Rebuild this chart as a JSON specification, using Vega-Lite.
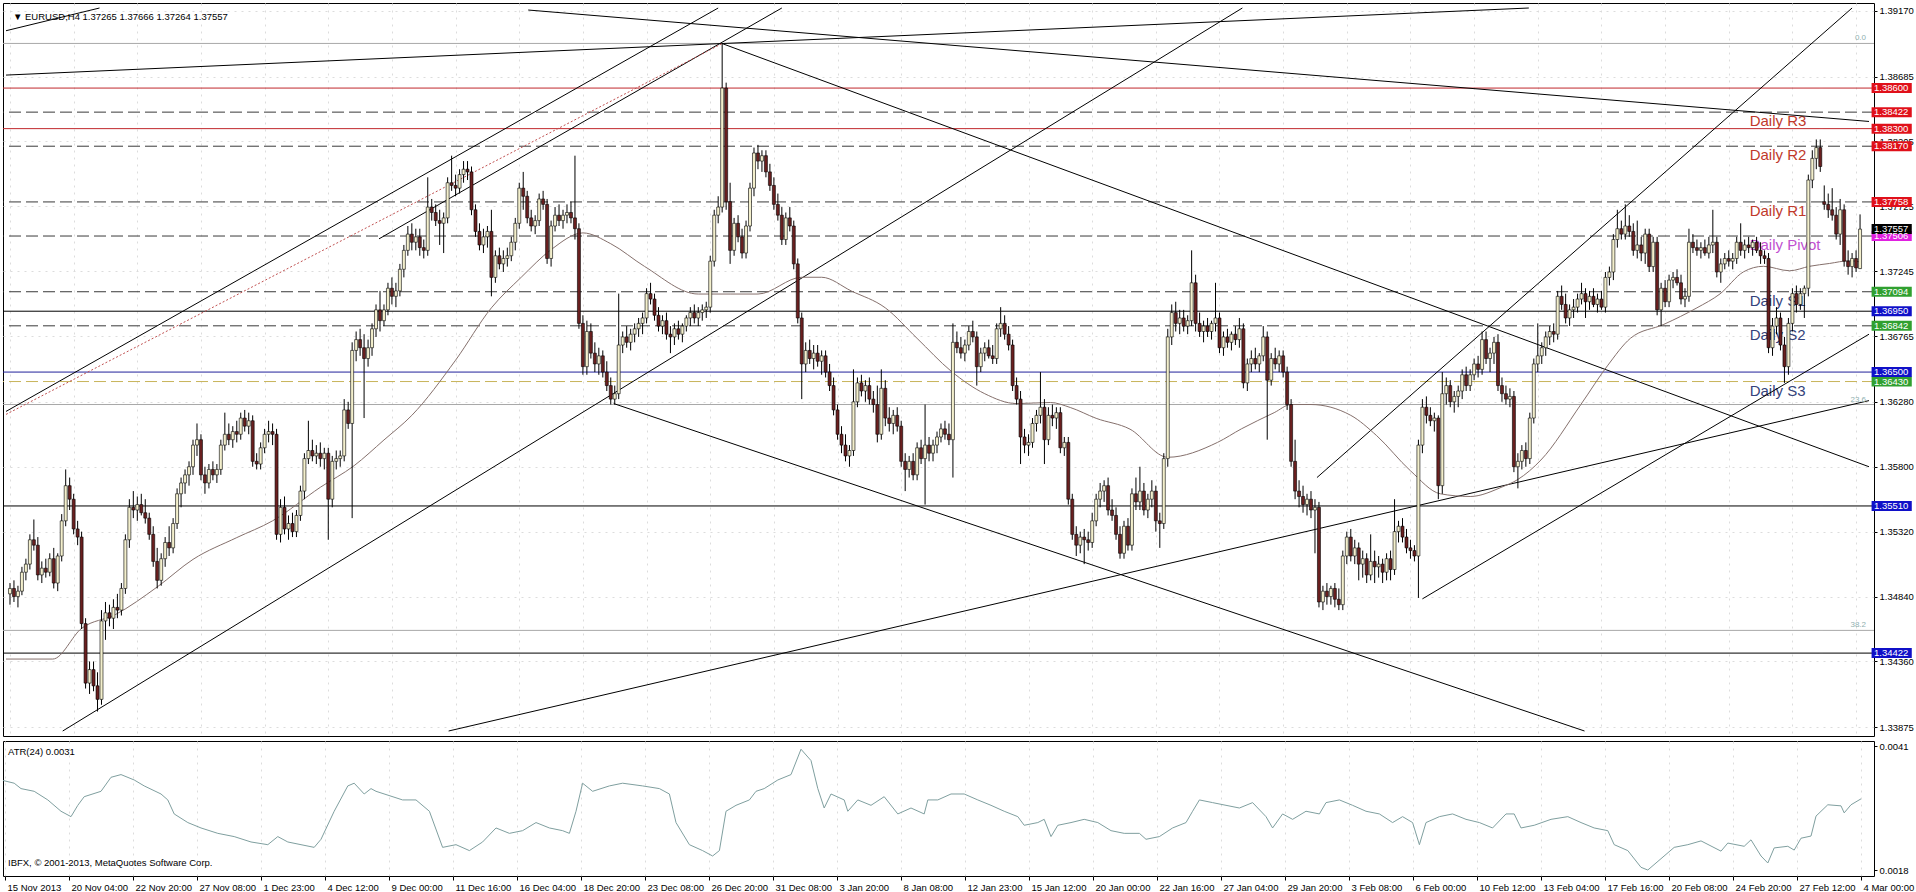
{
"$schema":"https://vega.github.io/schema/vega-lite/v6.json",
"padding":{"left":2,"top":2,"right":0,"bottom":0},
"background":"#ffffff",
"spacing":3,
"config":{"font":"Liberation Sans","view":{"stroke":"#000000","strokeWidth":1},"axis":{"labelFont":"Liberation Sans","labelFontSize":9.5,"labelColor":"#000000","tickColor":"#000000","domain":false,"zindex":0}},
"datasets":{
"bars":[
{"i":0,"o":1.3486,"h":1.3494,"l":1.3478,"c":1.3490},{"i":1,"o":1.3490,"h":1.3496,"l":1.3480,"c":1.3484},{"i":2,"o":1.3484,"h":1.3492,"l":1.3476,"c":1.3488},{"i":3,"o":1.3488,"h":1.3506,"l":1.3485,"c":1.3502},{"i":4,"o":1.3502,"h":1.3512,"l":1.3496,"c":1.3508},{"i":5,"o":1.3508,"h":1.3530,"l":1.3504,"c":1.3526},{"i":6,"o":1.3526,"h":1.3541,"l":1.3518,"c":1.3522},{"i":7,"o":1.3522,"h":1.3528,"l":1.3496,"c":1.3500},{"i":8,"o":1.3500,"h":1.3510,"l":1.3494,"c":1.3505},{"i":9,"o":1.3505,"h":1.3512,"l":1.3498,"c":1.3502},
{"i":10,"o":1.3502,"h":1.3516,"l":1.3499,"c":1.3512},{"i":11,"o":1.3512,"h":1.3520,"l":1.3490,"c":1.3494},{"i":12,"o":1.3494,"h":1.3516,"l":1.3488,"c":1.3514},{"i":13,"o":1.3514,"h":1.3545,"l":1.3510,"c":1.3540},{"i":14,"o":1.3540,"h":1.3578,"l":1.3536,"c":1.3566},{"i":15,"o":1.3566,"h":1.3572,"l":1.3548,"c":1.3556},{"i":16,"o":1.3556,"h":1.3560,"l":1.3530,"c":1.3534},{"i":17,"o":1.3534,"h":1.3540,"l":1.3522,"c":1.3528},{"i":18,"o":1.3528,"h":1.3532,"l":1.3460,"c":1.3464},{"i":19,"o":1.3464,"h":1.3468,"l":1.3416,"c":1.3420},
{"i":20,"o":1.3420,"h":1.3436,"l":1.3412,"c":1.3430},{"i":21,"o":1.3430,"h":1.3436,"l":1.3414,"c":1.3418},{"i":22,"o":1.3418,"h":1.3428,"l":1.3399,"c":1.3408},{"i":23,"o":1.3408,"h":1.3474,"l":1.3404,"c":1.3466},{"i":24,"o":1.3466,"h":1.3480,"l":1.3452,"c":1.3472},{"i":25,"o":1.3472,"h":1.3478,"l":1.3462,"c":1.3468},{"i":26,"o":1.3468,"h":1.3482,"l":1.3460,"c":1.3476},{"i":27,"o":1.3476,"h":1.3486,"l":1.3468,"c":1.3474},{"i":28,"o":1.3474,"h":1.3494,"l":1.3470,"c":1.3490},{"i":29,"o":1.3490,"h":1.3530,"l":1.3486,"c":1.3526},
{"i":30,"o":1.3526,"h":1.3556,"l":1.3520,"c":1.3550},{"i":31,"o":1.3550,"h":1.3562,"l":1.3542,"c":1.3548},{"i":32,"o":1.3548,"h":1.3558,"l":1.3540,"c":1.3552},{"i":33,"o":1.3552,"h":1.3560,"l":1.3544,"c":1.3546},{"i":34,"o":1.3546,"h":1.3556,"l":1.3538,"c":1.3542},{"i":35,"o":1.3542,"h":1.3546,"l":1.3526,"c":1.3530},{"i":36,"o":1.3530,"h":1.3536,"l":1.3506,"c":1.3510},{"i":37,"o":1.3510,"h":1.3520,"l":1.3490,"c":1.3496},{"i":38,"o":1.3496,"h":1.3516,"l":1.3492,"c":1.3512},{"i":39,"o":1.3512,"h":1.3528,"l":1.3506,"c":1.3524},
{"i":40,"o":1.3524,"h":1.3536,"l":1.3514,"c":1.3520},{"i":41,"o":1.3520,"h":1.3542,"l":1.3516,"c":1.3538},{"i":42,"o":1.3538,"h":1.3564,"l":1.3534,"c":1.3560},{"i":43,"o":1.3560,"h":1.3572,"l":1.3550,"c":1.3568},{"i":44,"o":1.3568,"h":1.3578,"l":1.3560,"c":1.3574},{"i":45,"o":1.3574,"h":1.3584,"l":1.3566,"c":1.3580},{"i":46,"o":1.3580,"h":1.3600,"l":1.3574,"c":1.3596},{"i":47,"o":1.3596,"h":1.3612,"l":1.3588,"c":1.3600},{"i":48,"o":1.3600,"h":1.3604,"l":1.3570,"c":1.3574},{"i":49,"o":1.3574,"h":1.3580,"l":1.3560,"c":1.3568},
{"i":50,"o":1.3568,"h":1.3582,"l":1.3564,"c":1.3578},{"i":51,"o":1.3578,"h":1.3584,"l":1.3570,"c":1.3574},{"i":52,"o":1.3574,"h":1.3582,"l":1.3568,"c":1.3578},{"i":53,"o":1.3578,"h":1.3600,"l":1.3574,"c":1.3596},{"i":54,"o":1.3596,"h":1.3620,"l":1.3592,"c":1.3604},{"i":55,"o":1.3604,"h":1.3612,"l":1.3596,"c":1.3600},{"i":56,"o":1.3600,"h":1.3610,"l":1.3594,"c":1.3606},{"i":57,"o":1.3606,"h":1.3614,"l":1.3598,"c":1.3604},{"i":58,"o":1.3604,"h":1.3620,"l":1.3600,"c":1.3616},{"i":59,"o":1.3616,"h":1.3622,"l":1.3606,"c":1.3610},
{"i":60,"o":1.3610,"h":1.3620,"l":1.3604,"c":1.3614},{"i":61,"o":1.3614,"h":1.3618,"l":1.3580,"c":1.3584},{"i":62,"o":1.3584,"h":1.3590,"l":1.3578,"c":1.3582},{"i":63,"o":1.3582,"h":1.3598,"l":1.3578,"c":1.3594},{"i":64,"o":1.3594,"h":1.3608,"l":1.3590,"c":1.3604},{"i":65,"o":1.3604,"h":1.3614,"l":1.3598,"c":1.3606},{"i":66,"o":1.3606,"h":1.3612,"l":1.3596,"c":1.3604},{"i":67,"o":1.3604,"h":1.3608,"l":1.3526,"c":1.3530},{"i":68,"o":1.3530,"h":1.3556,"l":1.3524,"c":1.3550},{"i":69,"o":1.3550,"h":1.3558,"l":1.3530,"c":1.3534},
{"i":70,"o":1.3534,"h":1.3544,"l":1.3526,"c":1.3538},{"i":71,"o":1.3538,"h":1.3546,"l":1.3528,"c":1.3532},{"i":72,"o":1.3532,"h":1.3548,"l":1.3528,"c":1.3544},{"i":73,"o":1.3544,"h":1.3566,"l":1.3540,"c":1.3562},{"i":74,"o":1.3562,"h":1.3590,"l":1.3556,"c":1.3586},{"i":75,"o":1.3586,"h":1.3614,"l":1.3582,"c":1.3592},{"i":76,"o":1.3592,"h":1.3600,"l":1.3584,"c":1.3588},{"i":77,"o":1.3588,"h":1.3596,"l":1.3582,"c":1.3590},{"i":78,"o":1.3590,"h":1.3598,"l":1.3580,"c":1.3586},{"i":79,"o":1.3586,"h":1.3594,"l":1.3578,"c":1.3590},
{"i":80,"o":1.3590,"h":1.3594,"l":1.3526,"c":1.3556},{"i":81,"o":1.3556,"h":1.3588,"l":1.3550,"c":1.3584},{"i":82,"o":1.3584,"h":1.3592,"l":1.3578,"c":1.3586},{"i":83,"o":1.3586,"h":1.3592,"l":1.3580,"c":1.3588},{"i":84,"o":1.3588,"h":1.3630,"l":1.3584,"c":1.3622},{"i":85,"o":1.3622,"h":1.3628,"l":1.3608,"c":1.3612},{"i":86,"o":1.3612,"h":1.3672,"l":1.3542,"c":1.3666},{"i":87,"o":1.3666,"h":1.3680,"l":1.3658,"c":1.3674},{"i":88,"o":1.3674,"h":1.3682,"l":1.3662,"c":1.3668},{"i":89,"o":1.3668,"h":1.3678,"l":1.3616,"c":1.3660},
{"i":90,"o":1.3660,"h":1.3674,"l":1.3654,"c":1.3668},{"i":91,"o":1.3668,"h":1.3686,"l":1.3662,"c":1.3682},{"i":92,"o":1.3682,"h":1.3700,"l":1.3676,"c":1.3696},{"i":93,"o":1.3696,"h":1.3710,"l":1.3680,"c":1.3688},{"i":94,"o":1.3688,"h":1.3700,"l":1.3684,"c":1.3696},{"i":95,"o":1.3696,"h":1.3716,"l":1.3692,"c":1.3712},{"i":96,"o":1.3712,"h":1.3720,"l":1.3700,"c":1.3706},{"i":97,"o":1.3706,"h":1.3716,"l":1.3698,"c":1.3710},{"i":98,"o":1.3710,"h":1.3730,"l":1.3706,"c":1.3726},{"i":99,"o":1.3726,"h":1.3744,"l":1.3720,"c":1.3740},
{"i":100,"o":1.3740,"h":1.3758,"l":1.3736,"c":1.3752},{"i":101,"o":1.3752,"h":1.3760,"l":1.3740,"c":1.3746},{"i":102,"o":1.3746,"h":1.3756,"l":1.3740,"c":1.3750},{"i":103,"o":1.3750,"h":1.3756,"l":1.3736,"c":1.3742},{"i":104,"o":1.3742,"h":1.3748,"l":1.3734,"c":1.3740},{"i":105,"o":1.3740,"h":1.3794,"l":1.3736,"c":1.3772},{"i":106,"o":1.3772,"h":1.3778,"l":1.3762,"c":1.3768},{"i":107,"o":1.3768,"h":1.3774,"l":1.3758,"c":1.3762},{"i":108,"o":1.3762,"h":1.3770,"l":1.3744,"c":1.3760},{"i":109,"o":1.3760,"h":1.3768,"l":1.3738,"c":1.3764},
{"i":110,"o":1.3764,"h":1.3794,"l":1.3760,"c":1.3790},{"i":111,"o":1.3790,"h":1.3810,"l":1.3784,"c":1.3788},{"i":112,"o":1.3788,"h":1.3796,"l":1.3780,"c":1.3786},{"i":113,"o":1.3786,"h":1.3800,"l":1.3782,"c":1.3796},{"i":114,"o":1.3796,"h":1.3806,"l":1.3790,"c":1.3800},{"i":115,"o":1.3800,"h":1.3806,"l":1.3792,"c":1.3798},{"i":116,"o":1.3798,"h":1.3802,"l":1.3766,"c":1.3770},{"i":117,"o":1.3770,"h":1.3774,"l":1.3750,"c":1.3754},{"i":118,"o":1.3754,"h":1.3760,"l":1.3740,"c":1.3744},{"i":119,"o":1.3744,"h":1.3756,"l":1.3738,"c":1.3750},
{"i":120,"o":1.3750,"h":1.3758,"l":1.3742,"c":1.3754},{"i":121,"o":1.3754,"h":1.3770,"l":1.3706,"c":1.3720},{"i":122,"o":1.3720,"h":1.3740,"l":1.3716,"c":1.3736},{"i":123,"o":1.3736,"h":1.3742,"l":1.3726,"c":1.3730},{"i":124,"o":1.3730,"h":1.3740,"l":1.3724,"c":1.3734},{"i":125,"o":1.3734,"h":1.3742,"l":1.3728,"c":1.3736},{"i":126,"o":1.3736,"h":1.3750,"l":1.3732,"c":1.3746},{"i":127,"o":1.3746,"h":1.3764,"l":1.3740,"c":1.3760},{"i":128,"o":1.3760,"h":1.3790,"l":1.3756,"c":1.3786},{"i":129,"o":1.3786,"h":1.3798,"l":1.3770,"c":1.3780},
{"i":130,"o":1.3780,"h":1.3784,"l":1.3760,"c":1.3764},{"i":131,"o":1.3764,"h":1.3770,"l":1.3754,"c":1.3758},{"i":132,"o":1.3758,"h":1.3766,"l":1.3752,"c":1.3762},{"i":133,"o":1.3762,"h":1.3782,"l":1.3758,"c":1.3778},{"i":134,"o":1.3778,"h":1.3784,"l":1.3770,"c":1.3774},{"i":135,"o":1.3774,"h":1.3778,"l":1.3730,"c":1.3734},{"i":136,"o":1.3734,"h":1.3762,"l":1.3728,"c":1.3758},{"i":137,"o":1.3758,"h":1.3772,"l":1.3754,"c":1.3766},{"i":138,"o":1.3766,"h":1.3774,"l":1.3758,"c":1.3762},{"i":139,"o":1.3762,"h":1.3770,"l":1.3756,"c":1.3766},
{"i":140,"o":1.3766,"h":1.3774,"l":1.3760,"c":1.3768},{"i":141,"o":1.3768,"h":1.3776,"l":1.3760,"c":1.3764},{"i":142,"o":1.3764,"h":1.3810,"l":1.3748,"c":1.3756},{"i":143,"o":1.3756,"h":1.3760,"l":1.3682,"c":1.3686},{"i":144,"o":1.3686,"h":1.3692,"l":1.3648,"c":1.3654},{"i":145,"o":1.3654,"h":1.3688,"l":1.3648,"c":1.3680},{"i":146,"o":1.3680,"h":1.3686,"l":1.3660,"c":1.3664},{"i":147,"o":1.3664,"h":1.3672,"l":1.3650,"c":1.3656},{"i":148,"o":1.3656,"h":1.3668,"l":1.3648,"c":1.3662},{"i":149,"o":1.3662,"h":1.3666,"l":1.3646,"c":1.3650},
{"i":150,"o":1.3650,"h":1.3658,"l":1.3636,"c":1.3640},{"i":151,"o":1.3640,"h":1.3646,"l":1.3626,"c":1.3630},{"i":152,"o":1.3630,"h":1.3640,"l":1.3626,"c":1.3634},{"i":153,"o":1.3634,"h":1.3708,"l":1.3630,"c":1.3670},{"i":154,"o":1.3670,"h":1.3680,"l":1.3664,"c":1.3676},{"i":155,"o":1.3676,"h":1.3684,"l":1.3668,"c":1.3672},{"i":156,"o":1.3672,"h":1.3682,"l":1.3666,"c":1.3678},{"i":157,"o":1.3678,"h":1.3686,"l":1.3672,"c":1.3682},{"i":158,"o":1.3682,"h":1.3690,"l":1.3676,"c":1.3686},{"i":159,"o":1.3686,"h":1.3694,"l":1.3678,"c":1.3690},
{"i":160,"o":1.3690,"h":1.3712,"l":1.3686,"c":1.3708},{"i":161,"o":1.3708,"h":1.3716,"l":1.3700,"c":1.3704},{"i":162,"o":1.3704,"h":1.3708,"l":1.3688,"c":1.3692},{"i":163,"o":1.3692,"h":1.3698,"l":1.3680,"c":1.3684},{"i":164,"o":1.3684,"h":1.3692,"l":1.3678,"c":1.3688},{"i":165,"o":1.3688,"h":1.3694,"l":1.3674,"c":1.3678},{"i":166,"o":1.3678,"h":1.3684,"l":1.3664,"c":1.3676},{"i":167,"o":1.3676,"h":1.3686,"l":1.3670,"c":1.3682},{"i":168,"o":1.3682,"h":1.3688,"l":1.3674,"c":1.3678},{"i":169,"o":1.3678,"h":1.3686,"l":1.3672,"c":1.3684},
{"i":170,"o":1.3684,"h":1.3692,"l":1.3680,"c":1.3690},{"i":171,"o":1.3690,"h":1.3698,"l":1.3684,"c":1.3694},{"i":172,"o":1.3694,"h":1.3700,"l":1.3686,"c":1.3690},{"i":173,"o":1.3690,"h":1.3698,"l":1.3684,"c":1.3694},{"i":174,"o":1.3694,"h":1.3700,"l":1.3688,"c":1.3696},{"i":175,"o":1.3696,"h":1.3702,"l":1.3690,"c":1.3698},{"i":176,"o":1.3698,"h":1.3736,"l":1.3694,"c":1.3732},{"i":177,"o":1.3732,"h":1.3770,"l":1.3728,"c":1.3766},{"i":178,"o":1.3766,"h":1.3780,"l":1.3760,"c":1.3772},{"i":179,"o":1.3772,"h":1.3893,"l":1.3768,"c":1.3860},
{"i":180,"o":1.3860,"h":1.3864,"l":1.3770,"c":1.3776},{"i":181,"o":1.3776,"h":1.3790,"l":1.3730,"c":1.3740},{"i":182,"o":1.3740,"h":1.3764,"l":1.3736,"c":1.3760},{"i":183,"o":1.3760,"h":1.3766,"l":1.3746,"c":1.3750},{"i":184,"o":1.3750,"h":1.3756,"l":1.3734,"c":1.3738},{"i":185,"o":1.3738,"h":1.3762,"l":1.3734,"c":1.3758},{"i":186,"o":1.3758,"h":1.3790,"l":1.3754,"c":1.3786},{"i":187,"o":1.3786,"h":1.3816,"l":1.3780,"c":1.3812},{"i":188,"o":1.3812,"h":1.3818,"l":1.3800,"c":1.3806},{"i":189,"o":1.3806,"h":1.3814,"l":1.3798,"c":1.3810},
{"i":190,"o":1.3810,"h":1.3814,"l":1.3794,"c":1.3798},{"i":191,"o":1.3798,"h":1.3804,"l":1.3784,"c":1.3788},{"i":192,"o":1.3788,"h":1.3794,"l":1.3770,"c":1.3774},{"i":193,"o":1.3774,"h":1.3782,"l":1.3762,"c":1.3766},{"i":194,"o":1.3766,"h":1.3772,"l":1.3744,"c":1.3748},{"i":195,"o":1.3748,"h":1.3768,"l":1.3744,"c":1.3764},{"i":196,"o":1.3764,"h":1.3772,"l":1.3754,"c":1.3758},{"i":197,"o":1.3758,"h":1.3762,"l":1.3726,"c":1.3730},{"i":198,"o":1.3730,"h":1.3734,"l":1.3686,"c":1.3690},{"i":199,"o":1.3690,"h":1.3694,"l":1.3630,"c":1.3656},
{"i":200,"o":1.3656,"h":1.3672,"l":1.3650,"c":1.3666},{"i":201,"o":1.3666,"h":1.3674,"l":1.3656,"c":1.3660},{"i":202,"o":1.3660,"h":1.3670,"l":1.3652,"c":1.3664},{"i":203,"o":1.3664,"h":1.3670,"l":1.3654,"c":1.3658},{"i":204,"o":1.3658,"h":1.3666,"l":1.3648,"c":1.3662},{"i":205,"o":1.3662,"h":1.3666,"l":1.3646,"c":1.3650},{"i":206,"o":1.3650,"h":1.3656,"l":1.3636,"c":1.3640},{"i":207,"o":1.3640,"h":1.3646,"l":1.3618,"c":1.3622},{"i":208,"o":1.3622,"h":1.3626,"l":1.3600,"c":1.3604},{"i":209,"o":1.3604,"h":1.3610,"l":1.3590,"c":1.3596},
{"i":210,"o":1.3596,"h":1.3604,"l":1.3584,"c":1.3588},{"i":211,"o":1.3588,"h":1.3596,"l":1.3580,"c":1.3592},{"i":212,"o":1.3592,"h":1.3652,"l":1.3588,"c":1.3628},{"i":213,"o":1.3628,"h":1.3646,"l":1.3624,"c":1.3642},{"i":214,"o":1.3642,"h":1.3648,"l":1.3632,"c":1.3636},{"i":215,"o":1.3636,"h":1.3644,"l":1.3628,"c":1.3640},{"i":216,"o":1.3640,"h":1.3646,"l":1.3626,"c":1.3630},{"i":217,"o":1.3630,"h":1.3636,"l":1.3620,"c":1.3626},{"i":218,"o":1.3626,"h":1.3640,"l":1.3598,"c":1.3604},{"i":219,"o":1.3604,"h":1.3652,"l":1.3600,"c":1.3638},
{"i":220,"o":1.3638,"h":1.3644,"l":1.3610,"c":1.3616},{"i":221,"o":1.3616,"h":1.3624,"l":1.3606,"c":1.3612},{"i":222,"o":1.3612,"h":1.3622,"l":1.3604,"c":1.3618},{"i":223,"o":1.3618,"h":1.3624,"l":1.3606,"c":1.3610},{"i":224,"o":1.3610,"h":1.3614,"l":1.3580,"c":1.3584},{"i":225,"o":1.3584,"h":1.3590,"l":1.3562,"c":1.3578},{"i":226,"o":1.3578,"h":1.3588,"l":1.3572,"c":1.3584},{"i":227,"o":1.3584,"h":1.3590,"l":1.3570,"c":1.3574},{"i":228,"o":1.3574,"h":1.3598,"l":1.3570,"c":1.3594},{"i":229,"o":1.3594,"h":1.3600,"l":1.3582,"c":1.3586},
{"i":230,"o":1.3586,"h":1.3626,"l":1.3552,"c":1.3596},{"i":231,"o":1.3596,"h":1.3602,"l":1.3584,"c":1.3590},{"i":232,"o":1.3590,"h":1.3600,"l":1.3584,"c":1.3596},{"i":233,"o":1.3596,"h":1.3606,"l":1.3590,"c":1.3602},{"i":234,"o":1.3602,"h":1.3612,"l":1.3598,"c":1.3608},{"i":235,"o":1.3608,"h":1.3614,"l":1.3600,"c":1.3604},{"i":236,"o":1.3604,"h":1.3612,"l":1.3596,"c":1.3600},{"i":237,"o":1.3600,"h":1.3686,"l":1.3572,"c":1.3672},{"i":238,"o":1.3672,"h":1.3680,"l":1.3664,"c":1.3668},{"i":239,"o":1.3668,"h":1.3676,"l":1.3660,"c":1.3664},
{"i":240,"o":1.3664,"h":1.3674,"l":1.3658,"c":1.3670},{"i":241,"o":1.3670,"h":1.3684,"l":1.3666,"c":1.3680},{"i":242,"o":1.3680,"h":1.3688,"l":1.3672,"c":1.3676},{"i":243,"o":1.3676,"h":1.3680,"l":1.3640,"c":1.3654},{"i":244,"o":1.3654,"h":1.3668,"l":1.3650,"c":1.3664},{"i":245,"o":1.3664,"h":1.3672,"l":1.3658,"c":1.3668},{"i":246,"o":1.3668,"h":1.3674,"l":1.3660,"c":1.3662},{"i":247,"o":1.3662,"h":1.3670,"l":1.3656,"c":1.3660},{"i":248,"o":1.3660,"h":1.3686,"l":1.3656,"c":1.3682},{"i":249,"o":1.3682,"h":1.3698,"l":1.3676,"c":1.3686},
{"i":250,"o":1.3686,"h":1.3692,"l":1.3674,"c":1.3678},{"i":251,"o":1.3678,"h":1.3684,"l":1.3666,"c":1.3670},{"i":252,"o":1.3670,"h":1.3674,"l":1.3636,"c":1.3640},{"i":253,"o":1.3640,"h":1.3646,"l":1.3626,"c":1.3630},{"i":254,"o":1.3630,"h":1.3636,"l":1.3582,"c":1.3602},{"i":255,"o":1.3602,"h":1.3608,"l":1.3590,"c":1.3596},{"i":256,"o":1.3596,"h":1.3604,"l":1.3588,"c":1.3598},{"i":257,"o":1.3598,"h":1.3616,"l":1.3594,"c":1.3612},{"i":258,"o":1.3612,"h":1.3622,"l":1.3606,"c":1.3618},{"i":259,"o":1.3618,"h":1.3650,"l":1.3612,"c":1.3624},
{"i":260,"o":1.3624,"h":1.3630,"l":1.3582,"c":1.3600},{"i":261,"o":1.3600,"h":1.3624,"l":1.3596,"c":1.3618},{"i":262,"o":1.3618,"h":1.3626,"l":1.3610,"c":1.3616},{"i":263,"o":1.3616,"h":1.3624,"l":1.3608,"c":1.3620},{"i":264,"o":1.3620,"h":1.3624,"l":1.3590,"c":1.3594},{"i":265,"o":1.3594,"h":1.3602,"l":1.3588,"c":1.3598},{"i":266,"o":1.3598,"h":1.3602,"l":1.3552,"c":1.3556},{"i":267,"o":1.3556,"h":1.3560,"l":1.3526,"c":1.3530},{"i":268,"o":1.3530,"h":1.3536,"l":1.3514,"c":1.3522},{"i":269,"o":1.3522,"h":1.3532,"l":1.3516,"c":1.3528},
{"i":270,"o":1.3528,"h":1.3534,"l":1.3508,"c":1.3526},{"i":271,"o":1.3526,"h":1.3532,"l":1.3518,"c":1.3524},{"i":272,"o":1.3524,"h":1.3546,"l":1.3520,"c":1.3540},{"i":273,"o":1.3540,"h":1.3560,"l":1.3536,"c":1.3556},{"i":274,"o":1.3556,"h":1.3568,"l":1.3550,"c":1.3562},{"i":275,"o":1.3562,"h":1.3570,"l":1.3554,"c":1.3566},{"i":276,"o":1.3566,"h":1.3572,"l":1.3544,"c":1.3548},{"i":277,"o":1.3548,"h":1.3556,"l":1.3540,"c":1.3544},{"i":278,"o":1.3544,"h":1.3550,"l":1.3526,"c":1.3530},{"i":279,"o":1.3530,"h":1.3536,"l":1.3512,"c":1.3516},
{"i":280,"o":1.3516,"h":1.3540,"l":1.3512,"c":1.3536},{"i":281,"o":1.3536,"h":1.3542,"l":1.3518,"c":1.3522},{"i":282,"o":1.3522,"h":1.3564,"l":1.3518,"c":1.3560},{"i":283,"o":1.3560,"h":1.3572,"l":1.3548,"c":1.3554},{"i":284,"o":1.3554,"h":1.3580,"l":1.3548,"c":1.3562},{"i":285,"o":1.3562,"h":1.3568,"l":1.3544,"c":1.3548},{"i":286,"o":1.3548,"h":1.3560,"l":1.3542,"c":1.3556},{"i":287,"o":1.3556,"h":1.3570,"l":1.3550,"c":1.3562},{"i":288,"o":1.3562,"h":1.3566,"l":1.3532,"c":1.3540},{"i":289,"o":1.3540,"h":1.3546,"l":1.3520,"c":1.3538},
{"i":290,"o":1.3538,"h":1.3590,"l":1.3534,"c":1.3586},{"i":291,"o":1.3586,"h":1.3682,"l":1.3580,"c":1.3676},{"i":292,"o":1.3676,"h":1.3700,"l":1.3670,"c":1.3694},{"i":293,"o":1.3694,"h":1.3702,"l":1.3680,"c":1.3686},{"i":294,"o":1.3686,"h":1.3696,"l":1.3678,"c":1.3690},{"i":295,"o":1.3690,"h":1.3696,"l":1.3680,"c":1.3684},{"i":296,"o":1.3684,"h":1.3692,"l":1.3678,"c":1.3688},{"i":297,"o":1.3688,"h":1.3740,"l":1.3684,"c":1.3716},{"i":298,"o":1.3716,"h":1.3722,"l":1.3680,"c":1.3686},{"i":299,"o":1.3686,"h":1.3694,"l":1.3676,"c":1.3680},
{"i":300,"o":1.3680,"h":1.3688,"l":1.3672,"c":1.3684},{"i":301,"o":1.3684,"h":1.3690,"l":1.3676,"c":1.3680},{"i":302,"o":1.3680,"h":1.3688,"l":1.3674,"c":1.3686},{"i":303,"o":1.3686,"h":1.3716,"l":1.3680,"c":1.3690},{"i":304,"o":1.3690,"h":1.3694,"l":1.3664,"c":1.3668},{"i":305,"o":1.3668,"h":1.3680,"l":1.3662,"c":1.3676},{"i":306,"o":1.3676,"h":1.3682,"l":1.3668,"c":1.3672},{"i":307,"o":1.3672,"h":1.3680,"l":1.3666,"c":1.3678},{"i":308,"o":1.3678,"h":1.3684,"l":1.3670,"c":1.3674},{"i":309,"o":1.3674,"h":1.3690,"l":1.3668,"c":1.3682},
{"i":310,"o":1.3682,"h":1.3686,"l":1.3638,"c":1.3642},{"i":311,"o":1.3642,"h":1.3660,"l":1.3636,"c":1.3656},{"i":312,"o":1.3656,"h":1.3666,"l":1.3650,"c":1.3660},{"i":313,"o":1.3660,"h":1.3668,"l":1.3652,"c":1.3656},{"i":314,"o":1.3656,"h":1.3664,"l":1.3650,"c":1.3662},{"i":315,"o":1.3662,"h":1.3684,"l":1.3658,"c":1.3676},{"i":316,"o":1.3676,"h":1.3680,"l":1.3600,"c":1.3644},{"i":317,"o":1.3644,"h":1.3664,"l":1.3640,"c":1.3660},{"i":318,"o":1.3660,"h":1.3668,"l":1.3652,"c":1.3656},{"i":319,"o":1.3656,"h":1.3666,"l":1.3650,"c":1.3662},
{"i":320,"o":1.3662,"h":1.3666,"l":1.3646,"c":1.3650},{"i":321,"o":1.3650,"h":1.3654,"l":1.3622,"c":1.3626},{"i":322,"o":1.3626,"h":1.3630,"l":1.3580,"c":1.3584},{"i":323,"o":1.3584,"h":1.3600,"l":1.3556,"c":1.3562},{"i":324,"o":1.3562,"h":1.3570,"l":1.3550,"c":1.3558},{"i":325,"o":1.3558,"h":1.3566,"l":1.3546,"c":1.3552},{"i":326,"o":1.3552,"h":1.3560,"l":1.3544,"c":1.3556},{"i":327,"o":1.3556,"h":1.3562,"l":1.3542,"c":1.3548},{"i":328,"o":1.3548,"h":1.3556,"l":1.3516,"c":1.3550},{"i":329,"o":1.3550,"h":1.3554,"l":1.3476,"c":1.3480},
{"i":330,"o":1.3480,"h":1.3492,"l":1.3474,"c":1.3488},{"i":331,"o":1.3488,"h":1.3494,"l":1.3478,"c":1.3484},{"i":332,"o":1.3484,"h":1.3492,"l":1.3478,"c":1.3490},{"i":333,"o":1.3490,"h":1.3494,"l":1.3476,"c":1.3482},{"i":334,"o":1.3482,"h":1.3490,"l":1.3474,"c":1.3478},{"i":335,"o":1.3478,"h":1.3518,"l":1.3474,"c":1.3514},{"i":336,"o":1.3514,"h":1.3532,"l":1.3508,"c":1.3528},{"i":337,"o":1.3528,"h":1.3534,"l":1.3510,"c":1.3514},{"i":338,"o":1.3514,"h":1.3526,"l":1.3508,"c":1.3520},{"i":339,"o":1.3520,"h":1.3524,"l":1.3496,"c":1.3508},
{"i":340,"o":1.3508,"h":1.3518,"l":1.3498,"c":1.3512},{"i":341,"o":1.3512,"h":1.3516,"l":1.3494,"c":1.3500},{"i":342,"o":1.3500,"h":1.3530,"l":1.3496,"c":1.3510},{"i":343,"o":1.3510,"h":1.3518,"l":1.3494,"c":1.3506},{"i":344,"o":1.3506,"h":1.3514,"l":1.3498,"c":1.3508},{"i":345,"o":1.3508,"h":1.3512,"l":1.3494,"c":1.3502},{"i":346,"o":1.3502,"h":1.3516,"l":1.3496,"c":1.3512},{"i":347,"o":1.3512,"h":1.3518,"l":1.3496,"c":1.3504},{"i":348,"o":1.3504,"h":1.3556,"l":1.3500,"c":1.3532},{"i":349,"o":1.3532,"h":1.3540,"l":1.3524,"c":1.3536},
{"i":350,"o":1.3536,"h":1.3542,"l":1.3524,"c":1.3528},{"i":351,"o":1.3528,"h":1.3534,"l":1.3516,"c":1.3520},{"i":352,"o":1.3520,"h":1.3526,"l":1.3512,"c":1.3518},{"i":353,"o":1.3518,"h":1.3522,"l":1.3510,"c":1.3514},{"i":354,"o":1.3514,"h":1.3600,"l":1.3483,"c":1.3596},{"i":355,"o":1.3596,"h":1.3630,"l":1.3590,"c":1.3624},{"i":356,"o":1.3624,"h":1.3632,"l":1.3612,"c":1.3618},{"i":357,"o":1.3618,"h":1.3624,"l":1.3610,"c":1.3614},{"i":358,"o":1.3614,"h":1.3620,"l":1.3606,"c":1.3616},{"i":359,"o":1.3616,"h":1.3618,"l":1.3556,"c":1.3566},
{"i":360,"o":1.3566,"h":1.3650,"l":1.3560,"c":1.3634},{"i":361,"o":1.3634,"h":1.3646,"l":1.3626,"c":1.3640},{"i":362,"o":1.3640,"h":1.3644,"l":1.3624,"c":1.3628},{"i":363,"o":1.3628,"h":1.3636,"l":1.3620,"c":1.3632},{"i":364,"o":1.3632,"h":1.3640,"l":1.3624,"c":1.3636},{"i":365,"o":1.3636,"h":1.3652,"l":1.3630,"c":1.3648},{"i":366,"o":1.3648,"h":1.3654,"l":1.3636,"c":1.3640},{"i":367,"o":1.3640,"h":1.3652,"l":1.3636,"c":1.3648},{"i":368,"o":1.3648,"h":1.3660,"l":1.3644,"c":1.3656},{"i":369,"o":1.3656,"h":1.3662,"l":1.3646,"c":1.3652},
{"i":370,"o":1.3652,"h":1.3680,"l":1.3648,"c":1.3674},{"i":371,"o":1.3674,"h":1.3680,"l":1.3656,"c":1.3660},{"i":372,"o":1.3660,"h":1.3668,"l":1.3650,"c":1.3664},{"i":373,"o":1.3664,"h":1.3676,"l":1.3656,"c":1.3672},{"i":374,"o":1.3672,"h":1.3678,"l":1.3636,"c":1.3640},{"i":375,"o":1.3640,"h":1.3646,"l":1.3628,"c":1.3634},{"i":376,"o":1.3634,"h":1.3640,"l":1.3626,"c":1.3630},{"i":377,"o":1.3630,"h":1.3638,"l":1.3624,"c":1.3632},{"i":378,"o":1.3632,"h":1.3636,"l":1.3576,"c":1.3580},{"i":379,"o":1.3580,"h":1.3590,"l":1.3564,"c":1.3584},
{"i":380,"o":1.3584,"h":1.3596,"l":1.3578,"c":1.3592},{"i":381,"o":1.3592,"h":1.3598,"l":1.3580,"c":1.3586},{"i":382,"o":1.3586,"h":1.3620,"l":1.3582,"c":1.3616},{"i":383,"o":1.3616,"h":1.3660,"l":1.3612,"c":1.3656},{"i":384,"o":1.3656,"h":1.3686,"l":1.3650,"c":1.3662},{"i":385,"o":1.3662,"h":1.3672,"l":1.3656,"c":1.3668},{"i":386,"o":1.3668,"h":1.3680,"l":1.3662,"c":1.3676},{"i":387,"o":1.3676,"h":1.3684,"l":1.3670,"c":1.3680},{"i":388,"o":1.3680,"h":1.3686,"l":1.3672,"c":1.3678},{"i":389,"o":1.3678,"h":1.3710,"l":1.3674,"c":1.3706},
{"i":390,"o":1.3706,"h":1.3714,"l":1.3696,"c":1.3700},{"i":391,"o":1.3700,"h":1.3708,"l":1.3686,"c":1.3690},{"i":392,"o":1.3690,"h":1.3700,"l":1.3684,"c":1.3696},{"i":393,"o":1.3696,"h":1.3704,"l":1.3690,"c":1.3698},{"i":394,"o":1.3698,"h":1.3708,"l":1.3694,"c":1.3704},{"i":395,"o":1.3704,"h":1.3716,"l":1.3700,"c":1.3708},{"i":396,"o":1.3708,"h":1.3712,"l":1.3690,"c":1.3702},{"i":397,"o":1.3702,"h":1.3710,"l":1.3696,"c":1.3706},{"i":398,"o":1.3706,"h":1.3712,"l":1.3698,"c":1.3700},{"i":399,"o":1.3700,"h":1.3708,"l":1.3694,"c":1.3704},
{"i":400,"o":1.3704,"h":1.3710,"l":1.3696,"c":1.3698},{"i":401,"o":1.3698,"h":1.3724,"l":1.3694,"c":1.3720},{"i":402,"o":1.3720,"h":1.3728,"l":1.3714,"c":1.3724},{"i":403,"o":1.3724,"h":1.3752,"l":1.3718,"c":1.3748},{"i":404,"o":1.3748,"h":1.3770,"l":1.3742,"c":1.3756},{"i":405,"o":1.3756,"h":1.3762,"l":1.3748,"c":1.3752},{"i":406,"o":1.3752,"h":1.3774,"l":1.3748,"c":1.3758},{"i":407,"o":1.3758,"h":1.3766,"l":1.3750,"c":1.3754},{"i":408,"o":1.3754,"h":1.3760,"l":1.3736,"c":1.3740},{"i":409,"o":1.3740,"h":1.3762,"l":1.3734,"c":1.3744},
{"i":410,"o":1.3744,"h":1.3750,"l":1.3732,"c":1.3738},{"i":411,"o":1.3738,"h":1.3756,"l":1.3730,"c":1.3752},{"i":412,"o":1.3752,"h":1.3756,"l":1.3724,"c":1.3728},{"i":413,"o":1.3728,"h":1.3750,"l":1.3724,"c":1.3746},{"i":414,"o":1.3746,"h":1.3750,"l":1.3692,"c":1.3696},{"i":415,"o":1.3696,"h":1.3716,"l":1.3684,"c":1.3712},{"i":416,"o":1.3712,"h":1.3718,"l":1.3698,"c":1.3702},{"i":417,"o":1.3702,"h":1.3722,"l":1.3698,"c":1.3718},{"i":418,"o":1.3718,"h":1.3724,"l":1.3712,"c":1.3720},{"i":419,"o":1.3720,"h":1.3726,"l":1.3714,"c":1.3716},
{"i":420,"o":1.3716,"h":1.3722,"l":1.3700,"c":1.3704},{"i":421,"o":1.3704,"h":1.3712,"l":1.3698,"c":1.3706},{"i":422,"o":1.3706,"h":1.3756,"l":1.3702,"c":1.3746},{"i":423,"o":1.3746,"h":1.3752,"l":1.3738,"c":1.3742},{"i":424,"o":1.3742,"h":1.3748,"l":1.3736,"c":1.3740},{"i":425,"o":1.3740,"h":1.3746,"l":1.3734,"c":1.3742},{"i":426,"o":1.3742,"h":1.3748,"l":1.3736,"c":1.3738},{"i":427,"o":1.3738,"h":1.3750,"l":1.3734,"c":1.3744},{"i":428,"o":1.3744,"h":1.3770,"l":1.3738,"c":1.3746},{"i":429,"o":1.3746,"h":1.3750,"l":1.3720,"c":1.3724},
{"i":430,"o":1.3724,"h":1.3734,"l":1.3716,"c":1.3730},{"i":431,"o":1.3730,"h":1.3738,"l":1.3726,"c":1.3734},{"i":432,"o":1.3734,"h":1.3740,"l":1.3728,"c":1.3732},{"i":433,"o":1.3732,"h":1.3738,"l":1.3726,"c":1.3734},{"i":434,"o":1.3734,"h":1.3750,"l":1.3730,"c":1.3746},{"i":435,"o":1.3746,"h":1.3760,"l":1.3736,"c":1.3740},{"i":436,"o":1.3740,"h":1.3748,"l":1.3734,"c":1.3744},{"i":437,"o":1.3744,"h":1.3750,"l":1.3738,"c":1.3742},{"i":438,"o":1.3742,"h":1.3748,"l":1.3736,"c":1.3746},{"i":439,"o":1.3746,"h":1.3750,"l":1.3738,"c":1.3740},
{"i":440,"o":1.3740,"h":1.3746,"l":1.3730,"c":1.3736},{"i":441,"o":1.3736,"h":1.3740,"l":1.3730,"c":1.3734},{"i":442,"o":1.3734,"h":1.3738,"l":1.3664,"c":1.3668},{"i":443,"o":1.3668,"h":1.3690,"l":1.3662,"c":1.3684},{"i":444,"o":1.3684,"h":1.3698,"l":1.3678,"c":1.3690},{"i":445,"o":1.3690,"h":1.3694,"l":1.3666,"c":1.3670},{"i":446,"o":1.3670,"h":1.3676,"l":1.3642,"c":1.3654},{"i":447,"o":1.3654,"h":1.3690,"l":1.3648,"c":1.3686},{"i":448,"o":1.3686,"h":1.3712,"l":1.3680,"c":1.3708},{"i":449,"o":1.3708,"h":1.3714,"l":1.3694,"c":1.3700},
{"i":450,"o":1.3700,"h":1.3712,"l":1.3696,"c":1.3708},{"i":451,"o":1.3708,"h":1.3714,"l":1.3690,"c":1.3712},{"i":452,"o":1.3712,"h":1.3796,"l":1.3706,"c":1.3792},{"i":453,"o":1.3792,"h":1.3814,"l":1.3786,"c":1.3808},{"i":454,"o":1.3808,"h":1.3822,"l":1.3800,"c":1.3816},{"i":455,"o":1.3816,"h":1.3822,"l":1.3798,"c":1.3802},{"i":456,"o":1.3776,"h":1.3788,"l":1.3770,"c":1.3774},{"i":457,"o":1.3774,"h":1.3782,"l":1.3764,"c":1.3770},{"i":458,"o":1.3770,"h":1.3786,"l":1.3762,"c":1.3766},{"i":459,"o":1.3766,"h":1.3772,"l":1.3748,"c":1.3752},
{"i":460,"o":1.3752,"h":1.3778,"l":1.3744,"c":1.3770},{"i":461,"o":1.3770,"h":1.3774,"l":1.3728,"c":1.3732},{"i":462,"o":1.3732,"h":1.3740,"l":1.3722,"c":1.3728},{"i":463,"o":1.3728,"h":1.3738,"l":1.3720,"c":1.3734},{"i":464,"o":1.3734,"h":1.3740,"l":1.3724,"c":1.3727},{"i":465,"o":1.37265,"h":1.37666,"l":1.37264,"c":1.37557}
],
"ma":[{"i":-1,"p":1.34378},{"i":10.75,"p":1.34378},{"i":18,"p":1.34605},{"i":26.5,"p":1.34707},{"i":37,"p":1.34911},{"i":46,"p":1.35115},{"i":57,"p":1.35276},{"i":66,"p":1.354},{"i":78,"p":1.35648},{"i":86.5,"p":1.35808},{"i":94,"p":1.35998},{"i":101,"p":1.3618},{"i":112,"p":1.36588},{"i":121,"p":1.36975},{"i":128.5,"p":1.37201},{"i":136,"p":1.37405},{"i":144,"p":1.37529},{"i":151,"p":1.37449},{"i":159.5,"p":1.37281},{"i":173,"p":1.37077},{"i":181,"p":1.37077},{"i":188,"p":1.37077},{"i":199,"p":1.37201},{"i":204,"p":1.37201},{"i":211.5,"p":1.37099},{"i":220,"p":1.36975},{"i":228,"p":1.36749},{"i":236.5,"p":1.36508},{"i":245,"p":1.3634},{"i":253,"p":1.36267},{"i":261.5,"p":1.36275},{"i":266.5,"p":1.36238},{"i":273,"p":1.36158},{"i":281.5,"p":1.36078},{"i":291,"p":1.3587},{"i":303.5,"p":1.3598},{"i":309.5,"p":1.3608},{"i":317.75,"p":1.362},{"i":322,"p":1.3626},{"i":327,"p":1.3626},{"i":337,"p":1.3618},{"i":343.5,"p":1.3603},{"i":352,"p":1.3577},{"i":359.5,"p":1.356},{"i":367,"p":1.3558},{"i":375,"p":1.3565},{"i":379,"p":1.35706},{"i":384.8,"p":1.3585},{"i":394.8,"p":1.36259},{"i":401.5,"p":1.36546},{"i":407.3,"p":1.3675},{"i":415.7,"p":1.36853},{"i":424,"p":1.36975},{"i":429.8,"p":1.37078},{"i":435.7,"p":1.37241},{"i":440.7,"p":1.37282},{"i":447.3,"p":1.37249},{"i":452.3,"p":1.37282},{"i":457.3,"p":1.37303},{"i":462.3,"p":1.37323},{"i":465,"p":1.37315}],
"atr":[{"i":-1,"v":0.00347},{"i":2.3,"v":0.00341},{"i":4,"v":0.00331},{"i":7.3,"v":0.00326},{"i":10.7,"v":0.0031},{"i":14,"v":0.00289},{"i":16.5,"v":0.00279},{"i":18.2,"v":0.003},{"i":19.8,"v":0.00316},{"i":24,"v":0.00326},{"i":26.5,"v":0.00352},{"i":29,"v":0.00357},{"i":32.3,"v":0.00347},{"i":34.8,"v":0.00336},{"i":39,"v":0.00321},{"i":40.7,"v":0.0031},{"i":42.3,"v":0.00284},{"i":45.7,"v":0.00268},{"i":49,"v":0.00258},{"i":53.2,"v":0.00248},{"i":57.3,"v":0.00242},{"i":61.5,"v":0.00232},{"i":65.7,"v":0.00227},{"i":68.2,"v":0.00242},{"i":70.7,"v":0.00232},{"i":74,"v":0.00227},{"i":77.3,"v":0.00222},{"i":79,"v":0.00237},{"i":82.3,"v":0.00289},{"i":85.7,"v":0.00336},{"i":87.3,"v":0.00341},{"i":89.8,"v":0.00321},{"i":91.5,"v":0.00331},{"i":92.75,"v":0.00326},{"i":99.4,"v":0.0031},{"i":102.75,"v":0.0031},{"i":106.1,"v":0.00289},{"i":109.4,"v":0.00222},{"i":112.75,"v":0.00227},{"i":116.1,"v":0.00216},{"i":119.4,"v":0.00232},{"i":122.75,"v":0.00258},{"i":126.1,"v":0.00248},{"i":129.4,"v":0.00253},{"i":132.75,"v":0.00268},{"i":136.1,"v":0.00258},{"i":139.4,"v":0.00253},{"i":141.1,"v":0.00248},{"i":142.75,"v":0.00289},{"i":144.4,"v":0.00341},{"i":146.9,"v":0.00326},{"i":151.1,"v":0.00336},{"i":154.4,"v":0.00341},{"i":159.4,"v":0.00336},{"i":163.6,"v":0.00331},{"i":166.1,"v":0.00321},{"i":167.75,"v":0.00268},{"i":171.1,"v":0.00227},{"i":174.4,"v":0.00216},{"i":176.9,"v":0.00206},{"i":178.6,"v":0.00216},{"i":180.25,"v":0.00289},{"i":182.75,"v":0.003},{"i":186.1,"v":0.0031},{"i":187.75,"v":0.00326},{"i":189.8,"v":0.00331},{"i":193.2,"v":0.00347},{"i":196.5,"v":0.00357},{"i":199,"v":0.00404},{"i":201.5,"v":0.00383},{"i":203.2,"v":0.00331},{"i":204.8,"v":0.00295},{"i":206.5,"v":0.00321},{"i":209.8,"v":0.0031},{"i":210.7,"v":0.00289},{"i":213.2,"v":0.0031},{"i":216.5,"v":0.003},{"i":219.8,"v":0.00316},{"i":223.2,"v":0.00284},{"i":226.5,"v":0.00295},{"i":229.8,"v":0.00284},{"i":230.7,"v":0.0031},{"i":233.2,"v":0.0031},{"i":236.5,"v":0.00321},{"i":239.8,"v":0.00321},{"i":243.2,"v":0.0031},{"i":246.5,"v":0.003},{"i":249.8,"v":0.00289},{"i":253.2,"v":0.00279},{"i":254.8,"v":0.00263},{"i":258.2,"v":0.00268},{"i":259.8,"v":0.00274},{"i":261.5,"v":0.00242},{"i":263.2,"v":0.00263},{"i":266.5,"v":0.00268},{"i":269.8,"v":0.00274},{"i":273.2,"v":0.00268},{"i":276.5,"v":0.00253},{"i":279.8,"v":0.00248},{"i":283.6,"v":0.00248},{"i":285.25,"v":0.00237},{"i":288.6,"v":0.00242},{"i":291.9,"v":0.00258},{"i":295.25,"v":0.00268},{"i":296.9,"v":0.00289},{"i":298.6,"v":0.0031},{"i":301.9,"v":0.00305},{"i":305.25,"v":0.003},{"i":308.6,"v":0.00295},{"i":311.9,"v":0.00305},{"i":315.25,"v":0.00279},{"i":316.9,"v":0.00258},{"i":319.4,"v":0.00284},{"i":321.9,"v":0.00274},{"i":325.25,"v":0.00289},{"i":328.6,"v":0.00284},{"i":330.25,"v":0.00305},{"i":333.6,"v":0.0031},{"i":336.9,"v":0.003},{"i":340.25,"v":0.00289},{"i":343.6,"v":0.00284},{"i":346.9,"v":0.00268},{"i":349.4,"v":0.00279},{"i":351.9,"v":0.00268},{"i":353.6,"v":0.00227},{"i":355.25,"v":0.00268},{"i":358.6,"v":0.00279},{"i":361.9,"v":0.00284},{"i":365.25,"v":0.00274},{"i":368.6,"v":0.00268},{"i":371.9,"v":0.00258},{"i":375.25,"v":0.00284},{"i":377.3,"v":0.00284},{"i":379,"v":0.00258},{"i":382.3,"v":0.00263},{"i":386.5,"v":0.00274},{"i":390.7,"v":0.00279},{"i":394,"v":0.00268},{"i":397.3,"v":0.00258},{"i":400.7,"v":0.00253},{"i":402.3,"v":0.00227},{"i":405.7,"v":0.00216},{"i":409,"v":0.00185},{"i":410.7,"v":0.0018},{"i":414,"v":0.00201},{"i":417.3,"v":0.00222},{"i":420.7,"v":0.00227},{"i":424,"v":0.00234},{"i":429,"v":0.00215},{"i":430.7,"v":0.0023},{"i":434.8,"v":0.00224},{"i":436.5,"v":0.00236},{"i":439,"v":0.00206},{"i":440.7,"v":0.00193},{"i":442.3,"v":0.00221},{"i":445.7,"v":0.00224},{"i":447.3,"v":0.00217},{"i":449,"v":0.00239},{"i":451.5,"v":0.00243},{"i":452.75,"v":0.0028},{"i":455.7,"v":0.00301},{"i":459,"v":0.00299},{"i":459.8,"v":0.00286},{"i":461.5,"v":0.00301},{"i":464,"v":0.00312}],
"levels":[{"p":1.3893,"k":"fib"},{"p":1.386,"k":"red"},{"p":1.38422,"k":"dash"},{"p":1.383,"k":"red"},{"p":1.3817,"k":"dash"},{"p":1.37758,"k":"dash"},{"p":1.37506,"k":"dash"},{"p":1.37094,"k":"dash"},{"p":1.3695,"k":"black"},{"p":1.36842,"k":"dash"},{"p":1.365,"k":"blue"},{"p":1.3643,"k":"s3"},{"p":1.3626,"k":"fib"},{"p":1.3551,"k":"black"},{"p":1.3459,"k":"fib"},{"p":1.34422,"k":"black"}],
"tags":[{"p":1.386,"t":"1.38600","k":"red"},{"p":1.38422,"t":"1.38422","k":"red"},{"p":1.383,"t":"1.38300","k":"red"},{"p":1.3817,"t":"1.38170","k":"red"},{"p":1.37758,"t":"1.37758","k":"red"},{"p":1.37506,"t":"1.37506","k":"mag"},{"p":1.37557,"t":"1.37557","k":"black"},{"p":1.37094,"t":"1.37094","k":"green"},{"p":1.3695,"t":"1.36950","k":"blue"},{"p":1.36842,"t":"1.36842","k":"green"},{"p":1.3643,"t":"1.36430","k":"green"},{"p":1.365,"t":"1.36500","k":"blue"},{"p":1.3551,"t":"1.35510","k":"blue"},{"p":1.34422,"t":"1.34422","k":"blue"}],
"daily":[{"t":"Daily R3","p":1.38422,"k":"R"},{"t":"Daily R2","p":1.3817,"k":"R"},{"t":"Daily R1","p":1.37758,"k":"R"},{"t":"Daily Pivot","p":1.37506,"k":"P"},{"t":"Daily S1","p":1.37094,"k":"S"},{"t":"Daily S2","p":1.36842,"k":"S"},{"t":"Daily S3","p":1.3643,"k":"S"}],
"fibt":[{"t":"0.0","p":1.3893},{"t":"23.6","p":1.3626},{"t":"38.2","p":1.3459}],
"trend":[{"id":"U1","i":-1,"p":1.36209},{"id":"U1","i":178,"p":1.39192},{"id":"U3","i":92.75,"p":1.37485},{"id":"U3","i":194,"p":1.39192},{"id":"L1","i":13.25,"p":1.33846},{"id":"L1","i":309.75,"p":1.39192},{"id":"D1","i":179,"p":1.38929},{"id":"D1","i":467.25,"p":1.358},{"id":"D2","i":151.75,"p":1.36267},{"id":"D2","i":395.75,"p":1.33846},{"id":"R1","i":110.25,"p":1.33846},{"id":"R1","i":467.25,"p":1.36289},{"id":"T1","i":130.25,"p":1.39177},{"id":"T1","i":467.25,"p":1.38353},{"id":"LT","i":-1,"p":1.38696},{"id":"LT","i":381.75,"p":1.39192},{"id":"TL","i":-1,"p":1.39024},{"id":"TL","i":22.5,"p":1.39192},{"id":"CU","i":328.5,"p":1.3572},{"id":"CU","i":463,"p":1.39192},{"id":"CL","i":355,"p":1.34823},{"id":"CL","i":467.25,"p":1.3678}],
"dotted":[{"i":-1,"p":1.36187},{"i":179,"p":1.38929}]
},
"vconcat":[
{
"width":1871,"height":733,
"resolve":{"scale":{"color":"independent"}},
"layer":[
{"data":{"name":"levels"},"mark":{"type":"rule","strokeWidth":1},
 "encoding":{
  "y":{"field":"p","type":"quantitative","scale":{"domain":[1.33846,1.39192],"nice":false,"zero":false},
       "axis":{"orient":"right","title":null,"values":[1.3917,1.38925,1.38685,1.38445,1.38205,1.37965,1.37725,1.37485,1.37245,1.37005,1.36765,1.36525,1.3628,1.3604,1.358,1.3556,1.3532,1.3508,1.3484,1.346,1.3436,1.3412,1.33875],"format":".5f","grid":true,"gridColor":"#dcdcdc","gridDash":[2,5],"tickSize":3,"labelPadding":2,"labelOverlap":false,"labelFlush":false}},
  "color":{"field":"k","type":"nominal","legend":null,"scale":{"domain":["red","dash","black","blue","fib","s3"],"range":["#c0282d","#3a3a3a","#000000","#20209a","#a8a8a8","#c8b45a"]}},
  "strokeDash":{"field":"k","type":"nominal","legend":null,"scale":{"domain":["red","dash","black","blue","fib","s3"],"range":[[1,0],[12,5],[1,0],[1,0],[1,0],[12,5]]}}
 }},
{"data":{"values":[{"i":0}]},"mark":{"type":"rule","opacity":0},
 "encoding":{"x":{"field":"i","type":"quantitative","scale":{"domain":[-0.5,467.25],"nice":false,"zero":false},
   "axis":{"orient":"bottom","title":null,"labels":false,"ticks":false,"domain":false,"grid":true,"gridColor":"#dcdcdc","gridDash":[2,5],"values":[0,8,16,24,32,40,48,56,64,72,80,88,96,104,112,120,128,136,144,152,160,168,176,184,192,200,208,216,224,232,240,248,256,264,272,280,288,296,304,312,320,328,336,344,352,360,368,376,384,392,400,408,416,424,432,440,448,456,464]}}}},
{"data":{"name":"daily"},"mark":{"type":"text","align":"left","baseline":"middle","dy":9,"fontSize":15,"font":"Liberation Sans"},
 "encoding":{"x":{"datum":437.25,"type":"quantitative","scale":{"domain":[-0.5,467.25],"nice":false,"zero":false},"axis":{"title":null}},
  "y":{"field":"p","type":"quantitative","scale":{"domain":[1.33846,1.39192],"nice":false,"zero":false},"axis":{"title":null}},
  "text":{"field":"t"},
  "color":{"field":"k","type":"nominal","legend":null,"scale":{"domain":["R","P","S"],"range":["#c0392b","#c050d0","#34427a"]}}}},
{"data":{"name":"trend"},"mark":{"type":"line","clip":true,"color":"#000000","strokeWidth":1},
 "encoding":{"x":{"field":"i","type":"quantitative","scale":{"domain":[-0.5,467.25],"nice":false,"zero":false},"axis":{"title":null}},
  "y":{"field":"p","type":"quantitative","scale":{"domain":[1.33846,1.39192],"nice":false,"zero":false},"axis":{"title":null}},
  "detail":{"field":"id","type":"nominal"}}},
{"data":{"name":"dotted"},"mark":{"type":"line","clip":true,"color":"#c05050","strokeWidth":1,"strokeDash":[2,2]},
 "encoding":{"x":{"field":"i","type":"quantitative","scale":{"domain":[-0.5,467.25],"nice":false,"zero":false},"axis":{"title":null}},
  "y":{"field":"p","type":"quantitative","scale":{"domain":[1.33846,1.39192],"nice":false,"zero":false},"axis":{"title":null}}}},
{"data":{"name":"ma"},"mark":{"type":"line","clip":true,"color":"#85706c","strokeWidth":1,"interpolate":"monotone"},
 "encoding":{"x":{"field":"i","type":"quantitative","scale":{"domain":[-0.5,467.25],"nice":false,"zero":false},"axis":{"title":null}},
  "y":{"field":"p","type":"quantitative","scale":{"domain":[1.33846,1.39192],"nice":false,"zero":false},"axis":{"title":null}}}},
{"data":{"name":"bars"},"mark":{"type":"rule","color":"#000000","strokeWidth":1},
 "encoding":{"x":{"field":"i","type":"quantitative","scale":{"domain":[-0.5,467.25],"nice":false,"zero":false},"axis":{"title":null}},
  "y":{"field":"l","type":"quantitative","scale":{"domain":[1.33846,1.39192],"nice":false,"zero":false},"axis":{"title":null}},
  "y2":{"field":"h"}}},
{"data":{"name":"bars"},"mark":{"type":"bar","size":3,"stroke":"#000000","strokeWidth":0.6},
 "encoding":{"x":{"field":"i","type":"quantitative","scale":{"domain":[-0.5,467.25],"nice":false,"zero":false},"axis":{"title":null}},
  "y":{"field":"o","type":"quantitative","scale":{"domain":[1.33846,1.39192],"nice":false,"zero":false},"axis":{"title":null}},
  "y2":{"field":"c"},
  "fill":{"condition":{"test":"datum.c >= datum.o","value":"#f3efcc"},"value":"#6a1f1f"}}},
{"data":{"name":"fibt"},"mark":{"type":"text","align":"right","baseline":"bottom","dy":-1,"fontSize":8,"color":"#8fb0b0"},
 "encoding":{"x":{"datum":466.5,"type":"quantitative","scale":{"domain":[-0.5,467.25],"nice":false,"zero":false},"axis":{"title":null}},
  "y":{"field":"p","type":"quantitative","scale":{"domain":[1.33846,1.39192],"nice":false,"zero":false},"axis":{"title":null}},
  "text":{"field":"t"}}},
{"data":{"name":"tags"},"mark":{"type":"bar","size":10,"clip":false},
 "encoding":{"x":{"datum":467.9,"type":"quantitative","scale":{"domain":[-0.5,467.25],"nice":false,"zero":false},"axis":{"title":null}},
  "x2":{"datum":478},
  "y":{"field":"p","type":"quantitative","scale":{"domain":[1.33846,1.39192],"nice":false,"zero":false},"axis":{"title":null}},
  "color":{"field":"k","type":"nominal","legend":null,"scale":{"domain":["red","black","mag","green","blue"],"range":["#e0101a","#000000","#e020e0","#30a030","#1010c8"]}}}},
{"data":{"name":"tags"},"mark":{"type":"text","align":"left","baseline":"middle","fontSize":9.5,"color":"#ffffff","clip":false},
 "encoding":{"x":{"datum":468.5,"type":"quantitative","scale":{"domain":[-0.5,467.25],"nice":false,"zero":false},"axis":{"title":null}},
  "y":{"field":"p","type":"quantitative","scale":{"domain":[1.33846,1.39192],"nice":false,"zero":false},"axis":{"title":null}},
  "text":{"field":"t"}}},
{"data":{"values":[{"t":"\u25bc EURUSD,H4  1.37265 1.37666 1.37264 1.37557"}]},"mark":{"type":"text","align":"left","baseline":"middle","fontSize":9.5,"color":"#000000"},
 "encoding":{"x":{"datum":0.75,"type":"quantitative","scale":{"domain":[-0.5,467.25],"nice":false,"zero":false},"axis":{"title":null}},
  "y":{"datum":1.39126,"type":"quantitative","scale":{"domain":[1.33846,1.39192],"nice":false,"zero":false},"axis":{"title":null}},
  "text":{"field":"t"}}}
]
},
{
"width":1871,"height":135,
"layer":[
{"data":{"name":"atr"},"mark":{"type":"line","color":"#7f9f9f","strokeWidth":1,"clip":true},
 "encoding":{"x":{"field":"i","type":"quantitative","scale":{"domain":[-0.5,467.25],"nice":false,"zero":false},
   "axis":{"orient":"bottom","title":null,"grid":true,"gridColor":"#dcdcdc","gridDash":[2,5],"domain":false,"tickSize":4,"labelPadding":2,"labelAlign":"left","labelOffset":2,"labelOverlap":false,"labelFlush":false,"labelBound":false,
    "tickOpacity":{"condition":{"test":"datum.value % 16 == 0","value":1},"value":0},
    "values":[0,8,16,24,32,40,48,56,64,72,80,88,96,104,112,120,128,136,144,152,160,168,176,184,192,200,208,216,224,232,240,248,256,264,272,280,288,296,304,312,320,328,336,344,352,360,368,376,384,392,400,408,416,424,432,440,448,456,464],
    "labelExpr":"datum.value % 16 == 0 ? ['15 Nov 2013','20 Nov 04:00','22 Nov 20:00','27 Nov 08:00','1 Dec 23:00','4 Dec 12:00','9 Dec 00:00','11 Dec 16:00','16 Dec 04:00','18 Dec 20:00','23 Dec 08:00','26 Dec 20:00','31 Dec 08:00','3 Jan 20:00','8 Jan 08:00','12 Jan 23:00','15 Jan 12:00','20 Jan 00:00','22 Jan 16:00','27 Jan 04:00','29 Jan 20:00','3 Feb 08:00','6 Feb 00:00','10 Feb 12:00','13 Feb 04:00','17 Feb 16:00','20 Feb 08:00','24 Feb 20:00','27 Feb 12:00','4 Mar 00:00'][datum.value / 16] : ''"}},
  "y":{"field":"v","type":"quantitative","scale":{"domain":[0.001689,0.004193],"nice":false,"zero":false},
   "axis":{"orient":"right","title":null,"values":[0.0041,0.0018],"format":".4f","grid":false,"tickSize":3,"labelPadding":2,"labelOverlap":false,"labelFlush":false}}}},
{"data":{"values":[{"t":"ATR(24) 0.0031","v":0.003989},{"t":"IBFX, \u00a9 2001-2013, MetaQuotes Software Corp.","v":0.00193}]},"mark":{"type":"text","align":"left","baseline":"middle","fontSize":9.5,"color":"#000000"},
 "encoding":{"x":{"datum":0.75,"type":"quantitative","scale":{"domain":[-0.5,467.25],"nice":false,"zero":false},"axis":{"title":null}},
  "y":{"field":"v","type":"quantitative","scale":{"domain":[0.001689,0.004193],"nice":false,"zero":false},"axis":{"title":null}},
  "text":{"field":"t"}}}
]
}
]
}
